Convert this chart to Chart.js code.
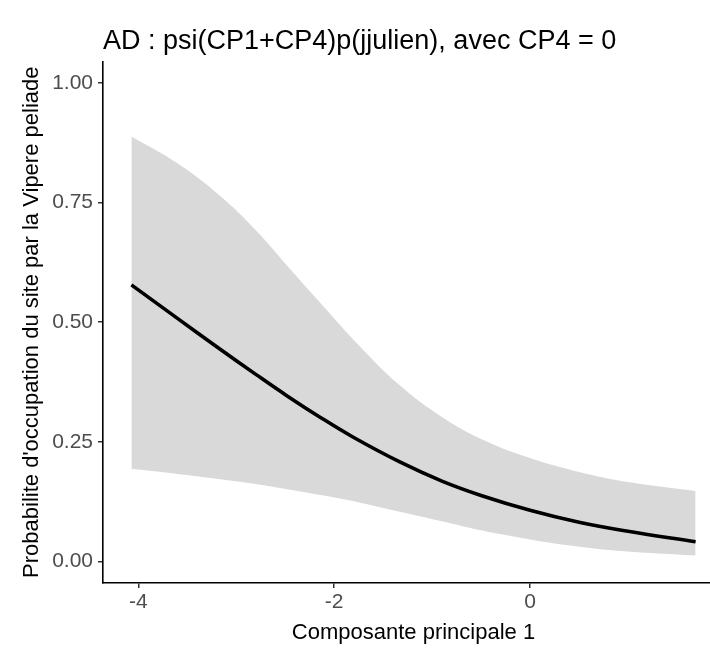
<!DOCTYPE html>
<html>
<head>
<meta charset="utf-8">
<script src="https://cdn.jsdelivr.net/npm/chart.js@4"></script>
<style>
  html, body { margin: 0; padding: 0; background: #fff; overflow: hidden; }
  #wrap { width: 710px; height: 649px; overflow: hidden; }
</style>
</head>
<body>
<div id="wrap"><canvas id="myChart" width="740" height="649"></canvas></div>
<script>
// values
const cp1 = [-4.07, -3.6, -3.16, -2.8, -2.48, -2.14, -1.8, -1.33, -0.9, -0.5, 0, 0.5, 1.0, 1.69];
const fitted = [0.578, 0.508, 0.443, 0.391, 0.346, 0.301, 0.259, 0.208, 0.168, 0.138, 0.107, 0.082, 0.063, 0.041];
const upper = [0.888, 0.832, 0.763, 0.692, 0.618, 0.540, 0.463, 0.368, 0.302, 0.256, 0.216, 0.187, 0.166, 0.147];
const lower = [0.1935, 0.183, 0.172, 0.162, 0.151, 0.139, 0.126, 0.104, 0.084, 0.065, 0.046, 0.031, 0.021, 0.0125];
const xTicks = [-4, -2, 0];
const yTicks = [0, 0.25, 0.5, 0.75, 1];

const titre = "AD : psi(CP1+CP4)p(jjulien), avec CP4 = 0";
const xTitre = "Composante principale 1";
const yTitre = "Probabilite d'occupation du site par la Vipere peliade";

const pts = (ys) => cp1.map((x, i) => ({ x: x, y: ys[i] }));

Chart.defaults.font.family = "'Liberation Sans', Arial, sans-serif";
Chart.defaults.animation = false;

const ctx = document.getElementById("myChart");
new Chart(ctx, {
  type: "line",
  data: {
    datasets: [
      {
        label: "prediction",
        data: pts(fitted),
        borderColor: "#000",
        borderWidth: 3.6,
        pointRadius: 0,
        tension: 0.4,
        fill: false,
      },
      {
        label: "ic haut",
        data: pts(upper),
        borderWidth: 0,
        borderColor: "rgba(0,0,0,0)",
        backgroundColor: "#d9d9d9",
        pointRadius: 0,
        tension: 0.4,
        fill: "+1",
      },
      {
        label: "ic bas",
        data: pts(lower),
        borderWidth: 0,
        borderColor: "rgba(0,0,0,0)",
        pointRadius: 0,
        tension: 0.4,
        fill: false,
      },
    ],
  },
  options: {
    responsive: false,
    layout: { padding: { left: 0, right: 16, top: 0, bottom: 0 } },
    plugins: {
      legend: { display: false },
      tooltip: { enabled: false },
      filler: { drawTime: "beforeDatasetsDraw" },
      title: {
        display: true,
        text: titre,
        align: "start",
        fullSize: false,
        color: "#000",
        font: { size: 27, weight: "normal" },
        padding: { top: 25, bottom: 4 },
      },
    },
    scales: {
      x: {
        type: "linear",
        min: -4.36,
        max: 1.98,
        afterFit: (s) => { s.height = 66; },
        afterBuildTicks: (s) => { s.ticks = xTicks.map((v) => ({ value: v })); },
        grid: { drawOnChartArea: false, drawTicks: true, tickLength: 5, color: "#333", lineWidth: 1.5 },
        border: { display: true, color: "#000", width: 1.6 },
        ticks: { color: "#4d4d4d", font: { size: 21 }, padding: 2, maxRotation: 0 },
        title: { display: true, text: xTitre, color: "#000", font: { size: 22 }, padding: { top: 0, bottom: 3 } },
      },
      y: {
        min: -0.045,
        max: 1.045,
        afterFit: (s) => { s.width = 103; },
        afterBuildTicks: (s) => { s.ticks = yTicks.map((v) => ({ value: v })); },
        grid: { drawOnChartArea: false, drawTicks: true, tickLength: 5, color: "#333", lineWidth: 1.5 },
        border: { display: true, color: "#000", width: 1.6 },
        ticks: { color: "#4d4d4d", font: { size: 21 }, padding: 5, callback: (v) => v.toFixed(2) },
        title: { display: true, text: yTitre, color: "#000", font: { size: 22 }, padding: { top: 19, bottom: 0 } },
      },
    },
  },
});
</script>
</body>
</html>
